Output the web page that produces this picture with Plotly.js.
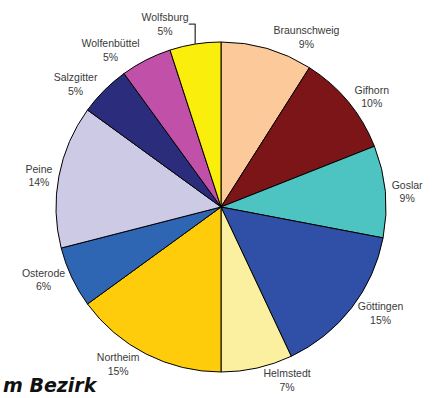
<!DOCTYPE html>
<html>
<head>
<meta charset="utf-8">
<script src="https://cdn.plot.ly/plotly-3.0.1.min.js"></script>
<style>html,body{margin:0;padding:0;background:#fff;}#chart{width:437px;height:398px;}</style>
</head>
<body>
<div id="chart"></div>
<script>
const labels = ["Braunschweig","Gifhorn","Goslar","Göttingen","Helmstedt","Northeim","Osterode","Peine","Salzgitter","Wolfenbüttel","Wolfsburg"];
const values = [9,10,9,15,7,15,6,14,5,5,5];
const colors = ["#FBC99A","#7B1517","#4DC3C2","#3050A8","#FBF0A0","#FECC0A","#2F66B3","#CCCAE4","#2B2C7B","#C050A8","#FAEE0C"];
const titleText = "m Bezirk";

const trace = {
  type: "pie",
  labels: labels,
  values: values,
  sort: false,
  direction: "clockwise",
  rotation: 0,
  marker: {colors: colors, line: {color: "#000", width: 1}},
  textinfo: "label+percent",
  texttemplate: "%{label}<br>%{percent:.0%}",
  textposition: "outside",
  outsidetextfont: {family: "Arial, Liberation Sans, sans-serif", size: 10.5, color: "#3a3a3a"},
  automargin: false,
  showlegend: false,
  hoverinfo: "none"
};

const layout = {
  width: 437, height: 398,
  margin: {l: 56, r: 51, t: 42, b: 26},
  paper_bgcolor: "#fff",
  showlegend: false,
  annotations: [{
    text: titleText, xref: "paper", yref: "paper", x: -0.166, y: -0.078,
    xanchor: "left", yanchor: "bottom", showarrow: false,
    font: {family: "DejaVu Sans, sans-serif", size: 19, color: "#111", weight: "bold", style: "italic"}
  }]
};

Plotly.newPlot("chart", [trace], layout, {displayModeBar: false, staticPlot: true});
</script>
</body>
</html>
